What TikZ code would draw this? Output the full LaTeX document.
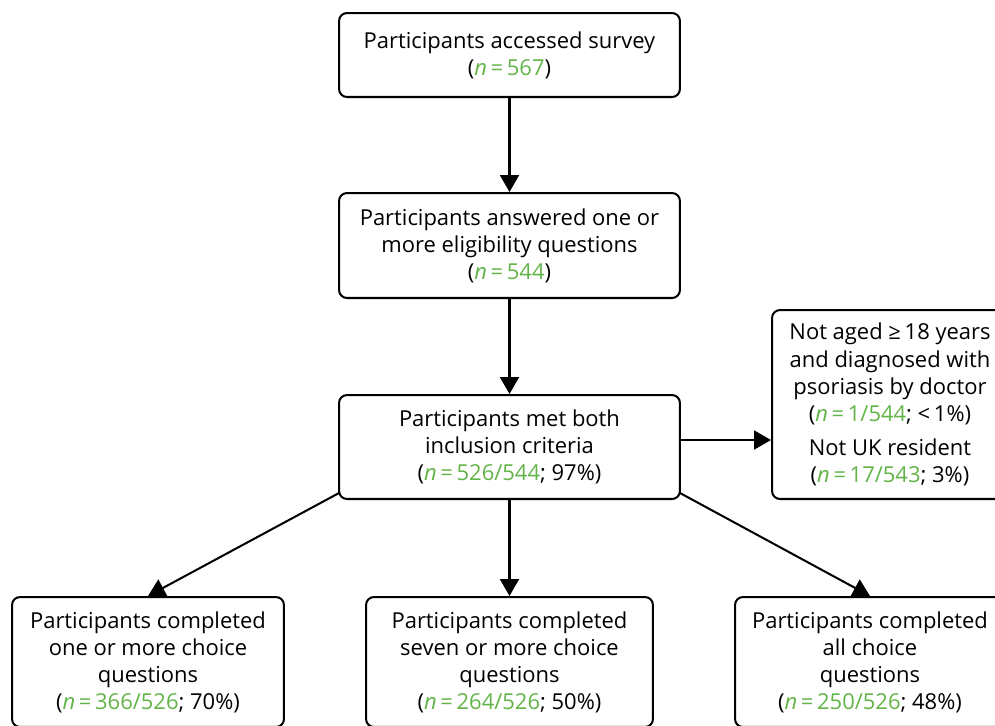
\documentclass[tikz,border=0pt]{standalone}
\usepackage{fontspec}
\setmainfont{Open Sans}
\usepackage{tikz}
\usetikzlibrary{
    positioning,
    arrows.meta
}
\definecolor{ngreen}{RGB}{98,180,72}
\newcommand{\nval}[1]{\textcolor{ngreen}{\textit{n}\,=\,#1}}
\tikzset{
    >={Triangle[length=0.34cm,width=0.38cm]},
    flowbox/.style={
        draw,
        line width=1.15pt,
        rounded corners=0.16cm,
        align=center,
        inner sep=2pt,
        font=\fontsize{12.5}{15.4}\selectfont
    }
}

\begin{document}
\begin{tikzpicture}[
    x=0.02cm, y=-0.02cm,
    line width=1.15pt
]
    \useasboundingbox (0,0) rectangle (995,725);
    \clip (0,0) rectangle (995,725);

    % Cajas centrales
    \node[flowbox, minimum width=6.82cm, minimum height=1.68cm] (access) at (509.5,55)
        {Participants accessed survey\\ (\nval{567})};
    \node[flowbox, minimum width=6.82cm, minimum height=2.10cm] (answer) at (509.5,245.5)
        {Participants answered one or\\ more eligibility questions\\ (\nval{544})};
    \node[flowbox, minimum width=6.82cm, minimum height=2.08cm] (met) at (509.5,447)
        {Participants met both\\ inclusion criteria\\ (\nval{526/544}; 97\%)};

    % Excluidos
    \node[flowbox, minimum width=4.72cm, minimum height=3.78cm] (excl) at (890,404.5)
        {Not aged ≥\,18 years\\ and diagnosed with\\ psoriasis by doctor\\ (\nval{1/544}; <\,1\%)\\[4pt]
         Not UK resident\\ (\nval{17/543}; 3\%)};

    % Cajas inferiores
    \node[flowbox, minimum width=5.44cm, minimum height=2.60cm] (one) at (148,662)
        {Participants completed\\ one or more choice\\ questions\\ (\nval{366/526}; 70\%)};
    \node[flowbox, minimum width=5.74cm, minimum height=2.60cm] (seven) at (509.5,662)
        {Participants completed\\ seven or more choice\\ questions\\ (\nval{264/526}; 50\%)};
    \node[flowbox, minimum width=5.40cm, minimum height=2.60cm] (all) at (870,662)
        {Participants completed\\ all choice\\ questions\\ (\nval{250/526}; 48\%)};

    % Flechas
    \path[->]
        (access) edge (answer)
        (answer) edge (met)
        ([yshift=0.14cm]met.east) edge ([yshift=0.14cm]met.east -| excl.west)
        ([shift={(0.02cm,0.14cm)}]met.south west) edge (one.north)
        (met) edge (seven)
        ([shift={(-0.02cm,0.14cm)}]met.south east) edge (all.north);

\end{tikzpicture}
\end{document}
